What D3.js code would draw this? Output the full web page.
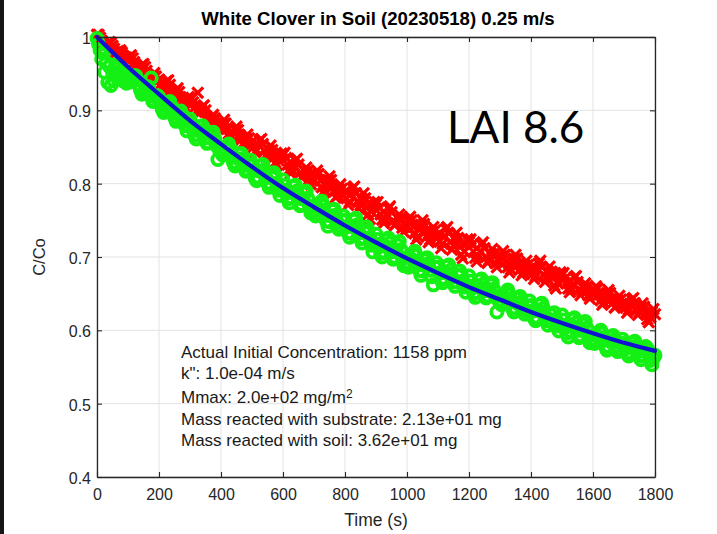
<!DOCTYPE html>
<html>
<head>
<meta charset="utf-8">
<script src="https://cdn.jsdelivr.net/npm/d3@7/dist/d3.min.js"></script>
<style>
  html, body { margin: 0; padding: 0; background: #ffffff; }
  svg { display: block; }
  text { font-family: "Liberation Sans", Arial, Helvetica, sans-serif; }
</style>
</head>
<body>
<svg id="chart" width="717" height="534"></svg>
<script>
// Sampling interval of the measured series (seconds)
const sampleStep = 5;

// Measured C/Co with substrate (red crosses), one value per 5 s from t = 0 (20 values per row = 100 s)
const redValues = [
  1.003, 1.003, 0.999, 0.995, 0.991, 0.988, 0.990, 0.990, 0.993, 0.992, 0.988, 0.984, 0.979, 0.980, 0.981, 0.982, 0.979, 0.974, 0.971, 0.972,
  0.970, 0.973, 0.975, 0.971, 0.966, 0.960, 0.954, 0.956, 0.958, 0.962, 0.963, 0.959, 0.954, 0.948, 0.944, 0.944, 0.947, 0.951, 0.946, 0.940,
  0.942, 0.936, 0.930, 0.932, 0.936, 0.940, 0.941, 0.935, 0.927, 0.921, 0.923, 0.927, 0.930, 0.925, 0.917, 0.912, 0.907, 0.912, 0.915, 0.918,
  0.915, 0.917, 0.911, 0.904, 0.898, 0.924, 0.896, 0.901, 0.905, 0.907, 0.900, 0.891, 0.885, 0.887, 0.891, 0.894, 0.889, 0.880, 0.875, 0.880,
  0.877, 0.883, 0.887, 0.882, 0.875, 0.868, 0.862, 0.864, 0.869, 0.874, 0.878, 0.873, 0.866, 0.860, 0.854, 0.855, 0.862, 0.867, 0.862, 0.853,
  0.857, 0.850, 0.843, 0.846, 0.853, 0.859, 0.861, 0.854, 0.845, 0.837, 0.841, 0.846, 0.852, 0.846, 0.837, 0.829, 0.825, 0.832, 0.837, 0.841,
  0.839, 0.842, 0.835, 0.826, 0.819, 0.814, 0.819, 0.825, 0.832, 0.834, 0.826, 0.815, 0.808, 0.811, 0.817, 0.822, 0.817, 0.806, 0.799, 0.807,
  0.804, 0.812, 0.818, 0.813, 0.804, 0.795, 0.787, 0.791, 0.798, 0.805, 0.810, 0.805, 0.796, 0.789, 0.781, 0.784, 0.793, 0.799, 0.793, 0.783,
  0.789, 0.780, 0.771, 0.775, 0.786, 0.794, 0.796, 0.787, 0.776, 0.766, 0.771, 0.779, 0.787, 0.780, 0.768, 0.758, 0.752, 0.762, 0.770, 0.775,
  0.772, 0.775, 0.767, 0.758, 0.751, 0.746, 0.751, 0.758, 0.766, 0.769, 0.761, 0.749, 0.743, 0.746, 0.753, 0.758, 0.752, 0.740, 0.734, 0.742,
  0.740, 0.749, 0.755, 0.750, 0.741, 0.732, 0.724, 0.728, 0.737, 0.744, 0.750, 0.745, 0.735, 0.728, 0.720, 0.724, 0.734, 0.741, 0.736, 0.725,
  0.731, 0.721, 0.712, 0.718, 0.729, 0.738, 0.741, 0.732, 0.721, 0.710, 0.716, 0.725, 0.733, 0.726, 0.714, 0.703, 0.698, 0.708, 0.718, 0.724,
  0.720, 0.724, 0.717, 0.707, 0.699, 0.694, 0.701, 0.708, 0.717, 0.720, 0.712, 0.700, 0.692, 0.696, 0.705, 0.711, 0.704, 0.692, 0.686, 0.695,
  0.693, 0.701, 0.708, 0.703, 0.694, 0.686, 0.679, 0.683, 0.690, 0.698, 0.703, 0.698, 0.690, 0.683, 0.675, 0.679, 0.689, 0.695, 0.689, 0.680,
  0.685, 0.677, 0.670, 0.674, 0.684, 0.691, 0.695, 0.686, 0.676, 0.666, 0.672, 0.680, 0.687, 0.680, 0.671, 0.661, 0.657, 0.665, 0.674, 0.679,
  0.675, 0.678, 0.671, 0.664, 0.657, 0.652, 0.657, 0.663, 0.672, 0.674, 0.666, 0.655, 0.648, 0.653, 0.659, 0.664, 0.659, 0.648, 0.643, 0.651,
  0.649, 0.655, 0.660, 0.657, 0.649, 0.641, 0.635, 0.638, 0.645, 0.651, 0.655, 0.651, 0.643, 0.638, 0.631, 0.633, 0.641, 0.647, 0.642, 0.634,
  0.638, 0.631, 0.624, 0.628, 0.636, 0.642, 0.644, 0.637, 0.629, 0.621, 0.625, 0.631, 0.637, 0.632, 0.623, 0.615, 0.611, 0.618, 0.625, 0.629,
  0.622
];

// Measured C/Co with soil (green circles), one value per 5 s from t = 0 (20 values per row = 100 s)
const greenValues = [
  0.998, 0.990, 0.982, 0.970, 0.978, 0.952, 0.965, 0.938, 0.960, 0.934, 0.952, 0.940, 0.962, 0.948, 0.958, 0.944, 0.955, 0.940, 0.950, 0.937,
  0.944, 0.939, 0.939, 0.944, 0.947, 0.947, 0.942, 0.934, 0.928, 0.922, 0.924, 0.928, 0.931, 0.932, 0.926, 0.944, 0.912, 0.913, 0.918, 0.920,
  0.916, 0.908, 0.902, 0.897, 0.901, 0.906, 0.910, 0.912, 0.905, 0.897, 0.891, 0.885, 0.889, 0.894, 0.899, 0.894, 0.886, 0.879, 0.872, 0.879,
  0.888, 0.882, 0.873, 0.866, 0.861, 0.866, 0.872, 0.878, 0.879, 0.873, 0.863, 0.855, 0.856, 0.862, 0.867, 0.870, 0.861, 0.852, 0.833, 0.846,
  0.844, 0.839, 0.840, 0.847, 0.852, 0.854, 0.848, 0.839, 0.829, 0.824, 0.828, 0.834, 0.840, 0.841, 0.834, 0.825, 0.817, 0.819, 0.826, 0.832,
  0.826, 0.818, 0.808, 0.804, 0.809, 0.817, 0.824, 0.826, 0.819, 0.808, 0.801, 0.795, 0.800, 0.808, 0.815, 0.810, 0.800, 0.791, 0.784, 0.792,
  0.805, 0.798, 0.787, 0.779, 0.774, 0.781, 0.788, 0.796, 0.798, 0.790, 0.780, 0.770, 0.772, 0.779, 0.787, 0.790, 0.780, 0.769, 0.760, 0.763,
  0.762, 0.756, 0.759, 0.766, 0.773, 0.776, 0.770, 0.760, 0.749, 0.742, 0.748, 0.756, 0.763, 0.765, 0.757, 0.747, 0.738, 0.742, 0.750, 0.756,
  0.750, 0.741, 0.733, 0.727, 0.732, 0.742, 0.750, 0.753, 0.744, 0.733, 0.725, 0.719, 0.726, 0.733, 0.741, 0.736, 0.726, 0.716, 0.707, 0.718,
  0.731, 0.724, 0.714, 0.705, 0.700, 0.707, 0.715, 0.723, 0.726, 0.719, 0.707, 0.697, 0.700, 0.708, 0.716, 0.721, 0.710, 0.698, 0.688, 0.692,
  0.692, 0.686, 0.689, 0.697, 0.704, 0.708, 0.702, 0.692, 0.682, 0.675, 0.681, 0.689, 0.696, 0.699, 0.691, 0.682, 0.673, 0.662, 0.686, 0.692,
  0.686, 0.678, 0.669, 0.665, 0.671, 0.679, 0.687, 0.689, 0.682, 0.672, 0.666, 0.660, 0.666, 0.674, 0.681, 0.676, 0.667, 0.659, 0.652, 0.661,
  0.674, 0.667, 0.657, 0.650, 0.645, 0.652, 0.660, 0.668, 0.670, 0.663, 0.654, 0.644, 0.647, 0.654, 0.662, 0.665, 0.656, 0.646, 0.625, 0.641,
  0.641, 0.635, 0.638, 0.645, 0.651, 0.655, 0.649, 0.640, 0.630, 0.625, 0.630, 0.637, 0.643, 0.646, 0.639, 0.630, 0.622, 0.626, 0.633, 0.640,
  0.634, 0.626, 0.617, 0.613, 0.618, 0.627, 0.635, 0.637, 0.630, 0.620, 0.613, 0.607, 0.613, 0.621, 0.610, 0.624, 0.615, 0.606, 0.599, 0.608,
  0.621, 0.614, 0.604, 0.596, 0.591, 0.599, 0.607, 0.615, 0.617, 0.610, 0.600, 0.590, 0.593, 0.600, 0.608, 0.612, 0.603, 0.592, 0.583, 0.587,
  0.587, 0.582, 0.585, 0.592, 0.598, 0.600, 0.596, 0.587, 0.578, 0.573, 0.578, 0.585, 0.591, 0.593, 0.587, 0.579, 0.571, 0.574, 0.582, 0.588,
  0.582, 0.575, 0.569, 0.565, 0.569, 0.577, 0.583, 0.585, 0.579, 0.571, 0.565, 0.560, 0.566, 0.572, 0.578, 0.575, 0.567, 0.559, 0.553, 0.562,
  0.566
];

// Fitted model curve (blue), sampled every 100 s
const fitTimes  = [0, 100, 200, 300, 400, 500, 600, 700, 800, 900, 1000,
                   1100, 1200, 1300, 1400, 1500, 1600, 1700, 1800];
const fitValues = [1.000, 0.959, 0.922, 0.886, 0.854, 0.823, 0.794, 0.768, 0.743, 0.720, 0.698,
                   0.678, 0.659, 0.642, 0.625, 0.610, 0.596, 0.583, 0.572];

// Axis ticks
const xTicks = [0, 200, 400, 600, 800, 1000, 1200, 1400, 1600, 1800];
const xTickLabels = ["0", "200", "400", "600", "800", "1000", "1200", "1400", "1600", "1800"];
const yTicks = [0.4, 0.5, 0.6, 0.7, 0.8, 0.9, 1];
const yTickLabels = ["0.4", "0.5", "0.6", "0.7", "0.8", "0.9", "1"];

// Text
const titleText = "White Clover in Soil (20230518) 0.25 m/s";
const xLabelText = "Time (s)";
const yLabelText = "C/Co";
const noteText = "LAI 8.6";
const infoLines = [
  "Actual Initial Concentration: 1158 ppm",
  "k\": 1.0e-04 m/s",
  "Mmax: 2.0e+02 mg/m",
  "Mass reacted with substrate: 2.13e+01 mg",
  "Mass reacted with soil: 3.62e+01 mg"
];

// ---- layout ----
const svg = d3.select("#chart");
const plot = { left: 97, right: 655, top: 37, bottom: 477 };
const axisColor = "#262626";

const x = d3.scaleLinear().domain([0, 1800]).range([plot.left, plot.right]);
const y = d3.scaleLinear().domain([0.4, 1]).range([plot.bottom, plot.top]);

// dark edge strip on the left of the frame
svg.append("rect").attr("x", 0).attr("y", 0).attr("width", 4).attr("height", 534).attr("fill", "#151515");

// grid
const grid = svg.append("g").attr("class", "grid");
grid.selectAll("line.gx").data(xTicks).join("line")
  .attr("x1", d => x(d)).attr("x2", d => x(d))
  .attr("y1", plot.top).attr("y2", plot.bottom)
  .attr("stroke", "#e3e3e3").attr("stroke-width", 1);
grid.selectAll("line.gy").data(yTicks).join("line")
  .attr("y1", d => y(d)).attr("y2", d => y(d))
  .attr("x1", plot.left).attr("x2", plot.right)
  .attr("stroke", "#e3e3e3").attr("stroke-width", 1);

// clip for data marks
svg.append("defs").append("clipPath").attr("id", "plotClip")
  .append("rect")
  .attr("x", plot.left - 12).attr("y", plot.top - 12)
  .attr("width", plot.right - plot.left + 24).attr("height", plot.bottom - plot.top + 24);

const dataLayer = svg.append("g").attr("clip-path", "url(#plotClip)");

// red crosses
const redPts = redValues.map((v, i) => ({ t: i * sampleStep, v }));
const cross = 5.4;
dataLayer.append("g").selectAll("path").data(redPts).join("path")
  .attr("d", d => {
    const cx = x(d.t), cy = y(d.v);
    return `M${cx - cross},${cy - cross}L${cx + cross},${cy + cross}M${cx - cross},${cy + cross}L${cx + cross},${cy - cross}`;
  })
  .attr("stroke", "#ff0000").attr("stroke-width", 3.2).attr("fill", "none");

// green circles
const greenPts = greenValues.map((v, i) => ({ t: i * sampleStep, v }));
dataLayer.append("g").selectAll("circle").data(greenPts).join("circle")
  .attr("cx", d => x(d.t)).attr("cy", d => y(d.v)).attr("r", 5.6)
  .attr("stroke", "#14f014").attr("stroke-width", 3.8).attr("fill", "none");

// fitted curve
const fitLine = d3.line()
  .x((d, i) => x(fitTimes[i]))
  .y(d => y(d))
  .curve(d3.curveMonotoneX);
dataLayer.append("path").datum(fitValues)
  .attr("d", fitLine)
  .attr("fill", "none").attr("stroke", "#1212d2").attr("stroke-width", 4.2)
  .attr("stroke-linecap", "round");

// axes with inward ticks on all four sides
const fmtX = d => xTickLabels[xTicks.indexOf(d)];
const fmtY = d => yTickLabels[yTicks.indexOf(d)];
const axBottom = svg.append("g").attr("transform", `translate(0,${plot.bottom})`)
  .call(d3.axisBottom(x).tickValues(xTicks).tickSize(-5).tickSizeOuter(0).tickPadding(12).tickFormat(fmtX));
const axTop = svg.append("g").attr("transform", `translate(0,${plot.top})`)
  .call(d3.axisTop(x).tickValues(xTicks).tickSize(-5).tickSizeOuter(0).tickFormat(""));
const axLeft = svg.append("g").attr("transform", `translate(${plot.left},0)`)
  .call(d3.axisLeft(y).tickValues(yTicks).tickSize(-5).tickSizeOuter(0).tickPadding(6).tickFormat(fmtY));
const axRight = svg.append("g").attr("transform", `translate(${plot.right},0)`)
  .call(d3.axisRight(y).tickValues(yTicks).tickSize(-5).tickSizeOuter(0).tickFormat(""));

[axBottom, axTop, axLeft, axRight].forEach(g => {
  g.select(".domain").attr("stroke", axisColor).attr("stroke-width", 1.3);
  g.selectAll(".tick line").attr("stroke", axisColor).attr("stroke-width", 1.1);
  g.selectAll(".tick text").attr("fill", axisColor).style("font-size", "16px")
    .style("font-family", "'Liberation Sans', Arial, sans-serif");
});
axLeft.selectAll(".tick text").attr("dy", "0.4em");

// title
svg.append("text")
  .attr("x", 378).attr("y", 25)
  .attr("text-anchor", "middle")
  .attr("fill", "#000000")
  .style("font-size", "18.6px").style("font-weight", "bold")
  .text(titleText);

// axis labels
svg.append("text")
  .attr("x", 376).attr("y", 526)
  .attr("text-anchor", "middle").attr("fill", axisColor)
  .style("font-size", "17.5px")
  .text(xLabelText);
svg.append("text")
  .attr("transform", "translate(45,257) rotate(-90)")
  .attr("text-anchor", "middle").attr("fill", axisColor)
  .style("font-size", "16.5px")
  .text(yLabelText);

// annotation block
const infoY = [358, 379, 403, 425, 446];
const info = svg.append("g").attr("fill", "#1a1a1a").style("font-size", "17px");
infoLines.forEach((line, i) => {
  const t = info.append("text").attr("x", 181).attr("y", infoY[i]).text(line);
  if (i === 2) {
    t.append("tspan").attr("dy", "-0.45em").style("font-size", "12px").text("2");
  }
});

// LAI label
svg.append("text")
  .attr("x", 447).attr("y", 143)
  .attr("fill", "#000000")
  .style("font-family", "Lato, 'Open Sans', sans-serif")
  .style("font-size", "44px")
  .text(noteText);
</script>
</body>
</html>
